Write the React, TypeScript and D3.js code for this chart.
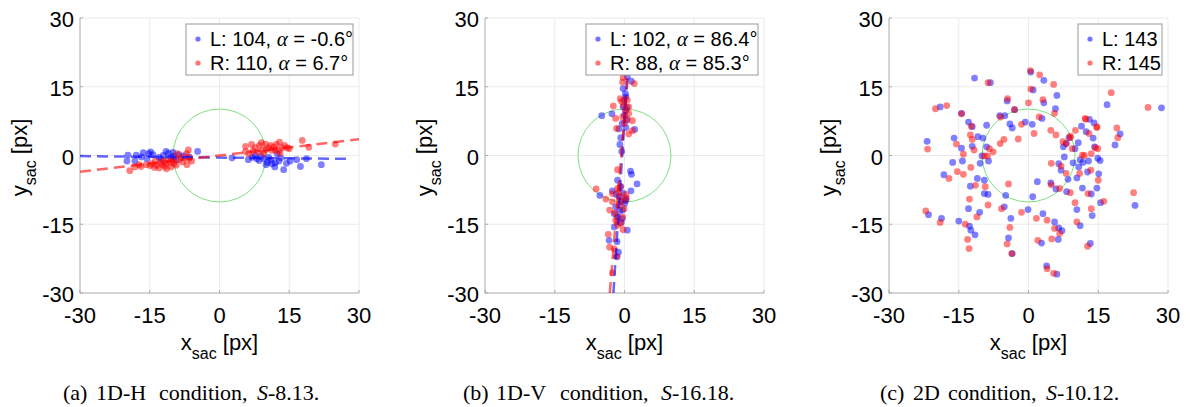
import React from 'react';
import * as d3 from 'd3';

type Pt = [number, number];

// ---------- data ----------
const ticks = [-30, -15, 0, 15, 30];
const targetRadius = 10;

// (a) 1D-H
const hLeft: Pt[] = [
  [-19.7, 0.1], [-19.9, -1.2], [-18.2, -1.2], [-17.9, 0.1], [-16.4, 0.6], [-15.2, 0.4], [-14.3, 0.2],
  [-15.6, -0.7], [-13.0, -0.4], [-12.1, 0], [-11.0, 0.5], [-10.0, 0.7], [-8.7, 0.2], [-7.7, -0.1],
  [-4.7, 0.9], [-6.5, -0.3], [-10.5, -0.4], [-9.3, -1.0], [-12.5, -0.8], [-11.5, 0.9], [-14.8, 0.8],
  [-9.8, -0.2], [-16.8, -0.3],
  [2.7, -0.5], [6.2, -0.9], [7.0, -0.4], [8.5, -1.1], [9.5, -0.7], [10.3, -1.5], [11.3, -1.8],
  [11.9, -2.5], [12.8, -1.2], [13.8, -3.1], [14.4, -1.7], [16.6, -0.9], [17.4, -2.4], [18.7, -0.7],
  [21.9, -2.0], [7.7, 0], [10.6, -0.4], [12.4, 0.4], [8.0, -0.7], [9.0, -0.2], [11.0, -1.0],
  [12.0, -1.6], [10.0, -2.0], [13.2, -0.5], [15.2, -1.2],
];
const hRight: Pt[] = [
  [-19.3, -3.3], [-18.2, -2.5], [-16.9, -2.4], [-15.8, -2.0], [-14.6, -1.8], [-13.6, -2.1], [-12.6, -1.5],
  [-11.8, -2.4], [-11.4, -2.9], [-10.6, -1.5], [-9.8, -1.8], [-9.3, -2.1], [-8.7, -0.9], [-7.9, -1.4],
  [-7.1, 0.4], [-6.7, 1.2], [-6.0, -1.2], [-17.3, -2.0], [-13.0, -2.7], [-10.4, -2.5], [-12.3, -2.0],
  [-8.2, -0.4], [-9.1, 0.4], [-13.8, -1.2], [-11.0, -1.0], [-12.0, -1.2], [-10.0, -1.1], [-14.0, -2.6],
  [-15.0, -2.2], [-11.5, -1.8], [-7.0, -2.0], [-6.5, -0.6],
  [5.6, 0.9], [5.6, 2.0], [6.9, 2.4], [7.7, 1.7], [8.6, 2.2], [9.9, 2.5], [10.6, 1.7], [11.3, 1.1],
  [12.2, 2.4], [12.9, 2.9], [13.5, 1.7], [14.6, 1.7], [8.3, 0.7], [9.5, 0.5], [11.7, 1.8], [9.2, 1.2],
  [17.8, 3.3], [19.2, 1.8], [24.9, 2.5], [12.8, 1.1], [6.3, 0.4], [10.0, 1.3], [11.0, 2.2], [12.0, 1.2],
  [13.0, 0.5], [9.0, 2.8], [15.0, 1.5], [14.0, 2.2], [7.2, 1.0],
];

// (b) 1D-V
const vLeft: Pt[] = [
  [0.6, 17.2], [1.5, 16.2], [-0.3, 14.6], [0.3, 12.8], [-4.9, 8.7], [-2.7, 9.1], [0.3, 9.9], [0.5, 7.7],
  [0.3, 6.1], [2.2, 5.7], [-1.2, 5.8], [-0.8, 3.9], [-1.0, 2.4], [-0.6, 0.9], [1.3, -3.4], [1.5, -4.1],
  [2.7, -6.2], [1.4, -7.7], [-1.5, -5.4], [-5.3, -8.7], [-2.6, -7.7], [-1.2, -9.0], [-0.8, -10.1],
  [0.3, -9.8], [-2.2, -12.7], [-0.7, -14.6], [0.6, -16.3], [-3.3, -18.5], [-1.6, -18.8], [-1.3, -21.1],
  [-1.6, -22.1], [-1.9, -11.2], [-0.4, -11.9], [-2.2, -15.6], [-1.5, -13.4], [-0.8, -6.8], [-0.1, 12.1],
  [-0.3, 10.6], [0.0, 8.8], [0.5, 10.5], [-0.5, 7.0], [0.2, 13.5], [-0.3, -8.2], [0.0, -10.5],
  [-1.0, -12.0], [-0.5, -13.8], [0.2, -9.5], [-1.8, -8.5],
];
const vRight: Pt[] = [
  [-0.3, 17.0], [2.1, 15.7], [-0.4, 16.0], [-0.6, 11.8], [0.6, 12.1], [-2.4, 10.8], [-0.9, 12.4],
  [-1.9, 8.1], [-0.4, 8.4], [0.9, 9.2], [0, 7.0], [1.7, 7.6], [1.7, 5.4], [0.9, 4.7], [-1.5, -3.1],
  [-6.1, -7.3], [-4.0, -9.5], [-2.6, -8.3], [-1.2, -7.9], [0.4, -9.3], [-0.1, -11.6], [-2.6, -10.1],
  [-3.2, -11.9], [-1.2, -10.9], [-1.9, -14.1], [-0.4, -13.4], [-0.3, -16.2], [-1.5, -15.2], [-3.5, -17.2],
  [-3.2, -20.0], [-2.2, -20.4], [-1.7, -22.0], [-2.6, -25.6], [0.9, 10.6], [-1.7, 5.9], [-0.9, -6.8],
  [0.2, 9.8], [-0.2, 11.0], [0.6, 8.0], [-1.0, -9.0], [-0.5, -10.0], [-2.0, -12.5], [0.3, -8.5],
  [-0.8, -14.8], [-1.5, -7.2],
];

// (c) 2D
const dLeft: Pt[] = [
  [-11.6, 16.9], [-8.2, 15.9], [0.5, 18.2], [1.0, 14.3], [3.3, 16.4], [6.1, 13.1], [-19.0, 10.6],
  [-4.6, 11.9], [3.3, 11.5], [5.8, 10.2], [-3.0, 10.0], [16.9, 11.1], [28.6, 10.4], [-14.4, 9.2],
  [-12.9, 7.3], [-6.2, 8.7], [-5.1, 8.7], [-0.7, 7.3], [0.8, 6.8], [2.9, 8.1], [-12.1, 6.3], [-9.0, 6.6],
  [-4.0, 6.9], [-3.5, 6.0], [-21.8, 3.1], [-16.0, 3.8], [-14.4, 1.6], [-10.9, 4.1], [-9.8, 3.8],
  [-12.1, 2.0], [-10.0, -0.1], [-9.0, 1.9], [-8.6, -1.2], [-16.3, -1.5], [-14.2, -1.2], [-10.4, -1.7],
  [-18.2, -4.2], [-11.0, -5.0], [-9.5, -5.4], [-12.5, -6.7], [-9.5, -8.3], [-8.7, -8.5], [-12.9, -11.6],
  [-10.5, -12.4], [-21.5, -12.9], [-18.7, -13.7], [-15.0, -14.3], [-12.7, -15.4], [-12.4, -16.3],
  [-11.5, -17.3], [-4.9, -8.7], [-5.2, -11.2], [-3.8, -13.7], [-4.3, -18.0], [-3.5, -21.4], [-0.1, -11.8],
  [0.9, -9.0], [1.9, -5.7], [3.1, -12.7], [2.8, -19.1], [3.9, -24.1], [6.1, -25.9], [5.6, -14.5],
  [6.5, -15.8], [7.2, -16.4], [6.4, -18.3], [4.8, -6.0], [5.9, -7.3], [6.5, -1.8], [7.0, -3.2],
  [7.7, -0.3], [7.5, 1.9], [8.1, 2.6], [8.7, 3.9], [8.5, -5.2], [8.2, -7.9], [10.0, 1.5], [9.6, -1.6],
  [10.4, -4.9], [11.1, -0.9], [10.8, -2.5], [11.6, -7.1], [10.4, -11.8], [11.1, -15.3], [11.4, 6.4],
  [13.1, 7.9], [14.1, 7.1], [12.4, 5.2], [13.9, 3.8], [10.7, 2.8], [12.9, -1.2], [11.7, -1.5],
  [12.7, -3.6], [14.2, 1.9], [14.9, -0.6], [15.4, -1.1], [15.1, -4.0], [14.7, -7.1], [13.5, -8.4],
  [13.7, -13.1], [13.3, -19.2], [15.5, -10.3], [18.6, 2.3], [19.7, 4.7], [22.9, -10.9],
];
const dRight: Pt[] = [
  [-20.0, 10.2], [-17.6, 10.9], [-8.7, 15.9], [0.4, 18.5], [0.5, 14.5], [2.4, 17.6], [5.4, 15.5],
  [-4.5, 12.4], [0.0, 11.5], [3.1, 12.2], [17.8, 13.7], [25.7, 10.5], [-14.4, 9.1], [-12.3, 6.4],
  [-6.0, 8.4], [-3.0, 10.0], [1.2, 4.8], [2.3, 8.4], [5.6, 9.2], [4.8, 5.5], [5.9, 4.5], [9.0, 4.2],
  [10.1, 5.5], [12.2, 8.1], [14.7, 6.1], [19.0, 6.0], [19.2, 3.9], [-21.7, 1.4], [-15.5, 2.5],
  [-14.0, 0.3], [-12.5, 4.5], [-12.1, 3.5], [-11.7, 1.2], [-8.4, 1.5], [-7.6, 0.8], [-8.8, -0.1],
  [-5.3, 3.5], [-2.2, 3.6], [-6.1, 2.6], [-17.1, -5.0], [-15.3, -3.5], [-14.0, -4.1], [-12.4, -2.6],
  [-9.5, -0.1], [-11.4, -6.5], [-9.3, -6.8], [-4.3, -6.2], [-8.7, -10.8], [-12.7, -9.5], [-11.1, -13.4],
  [-22.1, -12.1], [-19.0, -14.6], [-13.6, -15.0], [-13.1, -18.3], [-12.8, -20.3], [-5.8, -11.6],
  [-4.0, -15.7], [-4.6, -19.3], [-3.6, -21.4], [-1.5, -12.4], [1.7, -13.7], [2.0, -18.5], [4.0, -14.1],
  [5.0, -18.2], [5.4, -25.7], [4.0, -24.7], [5.6, -15.9], [6.7, -17.0], [4.9, -6.4], [6.7, -7.2],
  [4.9, -1.7], [7.0, -2.3], [8.1, -3.9], [9.0, -8.1], [10.0, -10.3], [10.4, -14.5], [12.7, -19.8],
  [9.0, 3.9], [9.4, 1.5], [11.6, 0.1], [12.0, 0.0], [11.0, -3.9], [12.3, 7.9], [13.0, 4.8], [14.7, 6.3],
  [14.4, 1.7], [14.9, 1.5], [13.5, 0.4], [13.4, -3.2], [15.0, -5.4], [12.8, -8.3], [13.5, -11.6],
  [16.2, -10.0], [22.6, -8.1], [7.4, 3.0], [8.1, 2.6], [-1.5, 6.8],
];

const blueSets = [hLeft, vLeft, dLeft];
const redSets = [hRight, vRight, dRight];
const leftCounts = [104, 102, 143];
const rightCounts = [110, 88, 145];
const leftAngles: (number | null)[] = [-0.6, 86.4, null];
const rightAngles: (number | null)[] = [6.7, 85.3, null];
// a point each fitted line passes through, and the extent of the line along its main direction
const leftAnchors: (Pt | null)[] = [[0, -0.45], [-0.5, 0], null];
const rightAnchors: (Pt | null)[] = [[0, 0], [-0.7, 0], null];
const leftExtents: Pt[] = [[-30, 28], [-30, 18], [0, 0]];
const rightExtents: Pt[] = [[-30, 30], [-30, 18], [0, 0]];
const captionWords = [
  ['(a)', '1D-H', 'condition,', 'S', '-8.13.'],
  ['(b)', '1D-V', 'condition,', 'S', '-16.18.'],
  ['(c)', '2D', 'condition,', 'S', '-10.12.'],
];

// ---------- layout ----------
const W = 1194;
const H = 407;
const plotW = 279;
const plotTop = 18;
const plotBottom = 293;
const lefts = [80, 485, 889];
const legendWidths = [167, 172, 84];
const captionLefts = [63, 463, 880];
const captionOffsets = [
  [0, 33, 96, 194],
  [0, 33, 97, 198],
  [0, 33, 68, 166],
];
const SANS = '"Liberation Sans", Arial, Helvetica, sans-serif';
const SERIF = '"Liberation Serif", "Times New Roman", serif';

function Panel({ i }: { i: number }) {
  const left = lefts[i];
  const x = d3.scaleLinear().domain([-30, 30]).range([left, left + plotW]);
  const y = d3.scaleLinear().domain([-30, 30]).range([plotBottom, plotTop]);
  const clipId = `clip${i}`;
  const line = d3.line<Pt>().x((d) => x(d[0])).y((d) => y(d[1]));

  const fit = (anchor: Pt | null, ang: number | null, ext: Pt) => {
    if (!anchor || ang === null) return null;
    const t = Math.tan((ang * Math.PI) / 180);
    let pts: Pt[];
    if (Math.abs(ang) < 45) {
      pts = ext.map((xv) => [xv, anchor[1] + t * (xv - anchor[0])] as Pt);
    } else {
      pts = ext.map((yv) => [anchor[0] + (yv - anchor[1]) / t, yv] as Pt);
    }
    return line(pts);
  };
  const blueFit = fit(leftAnchors[i], leftAngles[i], leftExtents[i]);
  const redFit = fit(rightAnchors[i], rightAngles[i], rightExtents[i]);

  const lw = legendWidths[i];
  const lx = left + plotW - 6 - lw;
  const ly = plotTop + 6;

  const legendRow = (prefix: string, count: number, ang: number | null, color: string, cy: number) => (
    <g>
      <circle cx={lx + 12} cy={cy} r={2.6} fill={color} fillOpacity={0.55} />
      <text x={lx + 24} y={cy + 7} fontFamily={SANS} fontSize={20} fill="#000">
        {`${prefix}: ${count}`}
        {ang !== null && (
          <>
            <tspan>{', '}</tspan>
            <tspan fontFamily={SERIF} fontStyle="italic" fontSize={21}>α</tspan>
            <tspan>{` = ${ang.toFixed(1)}°`}</tspan>
          </>
        )}
      </text>
    </g>
  );

  const cw = captionWords[i];
  const co = captionOffsets[i];
  const cl = captionLefts[i];

  return (
    <g>
      <defs>
        <clipPath id={clipId}>
          <rect x={x(-30)} y={y(30)} width={x(30) - x(-30)} height={y(-30) - y(30)} />
        </clipPath>
      </defs>
      {/* grid */}
      {ticks.filter((t) => t !== -30).map((t) => (
        <g key={`g${t}`}>
          <line x1={x(t)} x2={x(t)} y1={y(-30)} y2={y(30)} stroke="#ebebeb" strokeWidth={1} />
          <line x1={x(-30)} x2={x(30)} y1={y(t)} y2={y(t)} stroke="#ebebeb" strokeWidth={1} />
        </g>
      ))}
      {/* axes */}
      <line x1={x(-30)} x2={x(-30)} y1={y(-30)} y2={y(30)} stroke="#aaaaaa" strokeWidth={1} />
      <line x1={x(-30)} x2={x(30)} y1={y(-30)} y2={y(-30)} stroke="#aaaaaa" strokeWidth={1} />
      {ticks.map((t) => (
        <g key={`t${t}`}>
          <line x1={x(t)} x2={x(t)} y1={y(-30)} y2={y(-30) - 3} stroke="#aaaaaa" />
          <line x1={x(-30)} x2={x(-30) + 3} y1={y(t)} y2={y(t)} stroke="#aaaaaa" />
          <text x={x(t)} y={323} textAnchor="middle" fontFamily={SANS} fontSize={22} fill="#000">
            {t}
          </text>
          <text x={x(-30) - 6} y={y(t) + 9} textAnchor="end" fontFamily={SANS} fontSize={22} fill="#000">
            {t}
          </text>
        </g>
      ))}
      <g clipPath={`url(#${clipId})`}>
        <circle cx={x(0)} cy={y(0)} r={x(targetRadius) - x(0)} fill="none" stroke="#7de07d" strokeWidth={1} />
        {blueSets[i].map((d, k) => (
          <circle key={`b${k}`} cx={x(d[0])} cy={y(d[1])} r={3.4} fill="#0000ff" fillOpacity={0.5} />
        ))}
        {redSets[i].map((d, k) => (
          <circle key={`r${k}`} cx={x(d[0])} cy={y(d[1])} r={3.4} fill="#ff0000" fillOpacity={0.5} />
        ))}
        {blueFit && (
          <path d={blueFit} stroke="#0000ff" strokeOpacity={0.6} strokeWidth={2.5} strokeDasharray="11,6" fill="none" />
        )}
        {redFit && (
          <path d={redFit} stroke="#ff0000" strokeOpacity={0.6} strokeWidth={2.5} strokeDasharray="11,6" fill="none" />
        )}
      </g>
      {/* legend */}
      <rect x={lx} y={ly} width={lw} height={51} fill="#fff" stroke="#9a9a9a" strokeWidth={1} />
      {legendRow('L', leftCounts[i], leftAngles[i], '#0000ff', ly + 15)}
      {legendRow('R', rightCounts[i], rightAngles[i], '#ff0000', ly + 39)}
      {/* axis labels */}
      <text x={(x(-30) + x(30)) / 2} y={350} textAnchor="middle" fontFamily={SANS} fontSize={22} fill="#000">
        x<tspan fontSize={16} dy={9}>sac</tspan>
        <tspan dy={-9}> [px]</tspan>
      </text>
      <text
        transform={`translate(${x(-30) - 53},${(y(-30) + y(30)) / 2 + 2}) rotate(-90)`}
        textAnchor="middle"
        fontFamily={SANS}
        fontSize={22}
        fill="#000"
      >
        y<tspan fontSize={16} dy={9}>sac</tspan>
        <tspan dy={-9}> [px]</tspan>
      </text>
      {/* caption */}
      <text y={400} fontFamily={SERIF} fontSize={22} fill="#000">
        <tspan x={cl + co[0]}>{cw[0]}</tspan>
        <tspan x={cl + co[1]}>{cw[1]}</tspan>
        <tspan x={cl + co[2]}>{cw[2]}</tspan>
        <tspan x={cl + co[3]} fontStyle="italic">{cw[3]}</tspan>
        <tspan>{cw[4]}</tspan>
      </text>
    </g>
  );
}

export default function App() {
  return (
    <svg
      width={W}
      height={H}
      viewBox={`0 0 ${W} ${H}`}
      style={{ position: 'absolute', left: 0, top: 0, background: '#fff' }}
    >
      <rect width={W} height={H} fill="#fff" />
      {[0, 1, 2].map((i) => (
        <Panel key={i} i={i} />
      ))}
    </svg>
  );
}
